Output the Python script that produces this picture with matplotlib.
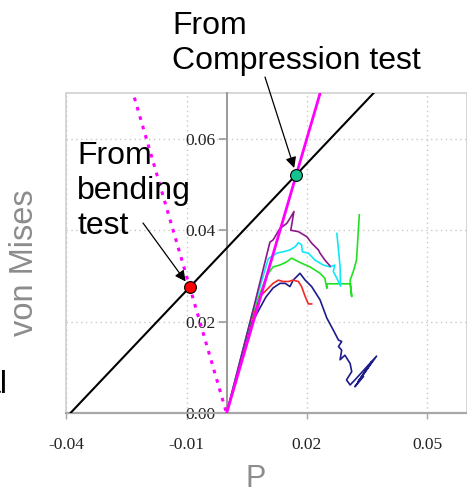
import numpy as np
import matplotlib
matplotlib.use("Agg")
import matplotlib.pyplot as plt
from matplotlib.patches import Rectangle

# ---- data -------------------------------------------------------------
# measured loading paths (pressure P, von Mises stress)
purple_p = [0.0, 0.0065, 0.0108, 0.0116, 0.0133, 0.0150, 0.0158, 0.0168, 0.0160,
            0.0179, 0.0200, 0.0212, 0.0229, 0.0233, 0.0245, 0.0258]
purple_q = [0.0, 0.0222, 0.0374, 0.0379, 0.0404, 0.0415, 0.0426, 0.0441, 0.0400,
            0.0397, 0.0386, 0.0372, 0.0357, 0.0350, 0.0335, 0.0322]

cyan_p = [0.0, 0.0065, 0.0104, 0.0112, 0.0125, 0.0141, 0.0158, 0.0171, 0.0179,
          0.0187, 0.0189, 0.0204, 0.0220, 0.0241, 0.0258, 0.0270, 0.0266, 0.0275,
          0.0284, 0.0283, 0.0279, 0.0275]
cyan_q = [0.0, 0.0222, 0.0338, 0.0342, 0.0350, 0.0353, 0.0357, 0.0364, 0.0373,
          0.0368, 0.0353, 0.0350, 0.0335, 0.0324, 0.0320, 0.0324, 0.0310, 0.0295,
          0.0278, 0.0320, 0.0357, 0.0393]

green_p = [0.0, 0.0065, 0.0100, 0.0104, 0.0116, 0.0133, 0.0150, 0.0162, 0.0171,
           0.0187, 0.0208, 0.0233, 0.0245, 0.0250, 0.0250, 0.0308, 0.0312, 0.0308,
           0.0316, 0.0324, 0.0328, 0.0331]
green_q = [0.0, 0.0220, 0.0300, 0.0306, 0.0320, 0.0324, 0.0331, 0.0339, 0.0335,
           0.0328, 0.0320, 0.0306, 0.0295, 0.0273, 0.0283, 0.0283, 0.0255, 0.0291,
           0.0310, 0.0335, 0.0393, 0.0434]

red_p = [0.0, 0.0060, 0.0067, 0.0083, 0.0100, 0.0116, 0.0129, 0.0141, 0.0154,
         0.0166, 0.0179, 0.0187, 0.0196, 0.0204, 0.0212]
red_q = [0.0, 0.0200, 0.0215, 0.0255, 0.0270, 0.0284, 0.0291, 0.0288, 0.0288,
         0.0291, 0.0288, 0.0277, 0.0255, 0.0239, 0.0239]

navy_p = [0.0, 0.0060, 0.0067, 0.0083, 0.0098, 0.0116, 0.0133, 0.0146, 0.0158,
          0.0166, 0.0183, 0.0196, 0.0212, 0.0233, 0.0250, 0.0266, 0.0279, 0.0287,
          0.0279, 0.0287, 0.0283, 0.0295, 0.0308, 0.0312, 0.0299, 0.0308, 0.0320,
          0.0374, 0.0328, 0.0362, 0.0320, 0.0341]
navy_q = [0.0, 0.0195, 0.0204, 0.0230, 0.0254, 0.0274, 0.0284, 0.0284, 0.0277,
          0.0291, 0.0306, 0.0291, 0.0277, 0.0248, 0.0208, 0.0182, 0.0160, 0.0157,
          0.0146, 0.0138, 0.0117, 0.0127, 0.0109, 0.0091, 0.0073, 0.0062, 0.0073,
          0.0125, 0.0069, 0.0113, 0.0058, 0.0080]

# failure criterion: q = k * (P - p0)
crit_k = 0.925
crit_p0 = -0.039
crit_p_end = 0.0374

# stress-path slopes for compression (q = 3P) and bending (q = -3P)
comp_slope = 3.0
comp_p_end = 0.0235
bend_slope = -3.0
bend_p_start = -0.023

x_ticks = [-0.04, -0.01, 0.02, 0.05]
x_ticklabels = ["-0.04", "-0.01", "0.02", "0.05"]
y_ticks = [0.00, 0.02, 0.04, 0.06]
y_ticklabels = ["0.00", "0.02", "0.04", "0.06"]

# ---- figure ------------------------------------------------------------
W, H = 467, 494
fig = plt.figure(figsize=(W / 100, H / 100), dpi=100)
ax = fig.add_axes([66.2 / W, 80.7 / H, 401 / W, 320.3 / H])
ax.set_xlim(-0.04, 0.06)
ax.set_ylim(0.0, 0.07)

sans = "Liberation Sans"
serif = "Liberation Serif"

# frame and axes lines
for s in ["top", "right"]:
    ax.spines[s].set_visible(False)
ax.spines["left"].set_position(("data", 0.0))
ax.spines["left"].set_color("#9a9a9a")
ax.spines["left"].set_linewidth(1.4)
ax.spines["bottom"].set_color("#a8a8a8")
ax.spines["bottom"].set_linewidth(1.6)
ax.add_patch(Rectangle((0, 0), 1, 1, transform=ax.transAxes, fill=False,
                       edgecolor="#cfcfcf", lw=1.2, zorder=0.5, clip_on=False))

ax.grid(True, linestyle=(0, (1, 2.5)), color="#c8c8c8", lw=1.0)
ax.set_axisbelow(True)

ax.set_xticks(x_ticks)
ax.set_xticklabels(x_ticklabels, fontfamily=serif, fontsize=12.5, color="#222222")
ax.set_yticks(y_ticks)
ax.set_yticklabels(y_ticklabels, fontfamily=serif, fontsize=12.5, color="#222222")
ax.tick_params(axis="x", direction="out", length=4, width=1, color="#a8a8a8", pad=13)
ax.tick_params(axis="y", direction="out", length=6, width=1.2, color="#9a9a9a", pad=2)

# criterion line
pc = np.array([crit_p0, crit_p_end])
ax.plot(pc, crit_k * (pc - crit_p0), color="black", lw=1.5, zorder=3)

# compression and bending stress paths
pcomp = np.array([0.0, comp_p_end])
ax.plot(pcomp, comp_slope * pcomp, color="#ff00ff", lw=2.0, zorder=6)
pbend = np.array([bend_p_start, 0.0])
ax.plot(pbend, bend_slope * pbend, color="#ff00ff", lw=2.2,
        linestyle=(0, (1.2, 2.0)), zorder=4)

# experimental curves
ax.plot(navy_p, navy_q, color="#1c1c8a", lw=1.2, zorder=5)
ax.plot(red_p, red_q, color="#f02828", lw=1.2, zorder=5)
ax.plot(green_p, green_q, color="#22e022", lw=1.2, zorder=5)
ax.plot(cyan_p, cyan_q, color="#10e8f8", lw=1.2, zorder=5)
ax.plot(purple_p, purple_q, color="#8a1a8a", lw=1.2, zorder=5)

# intersections of the criterion with the two stress paths
p_comp = -crit_k * crit_p0 / (comp_slope - crit_k)
q_comp = comp_slope * p_comp
p_bend = -crit_k * crit_p0 / (bend_slope - crit_k)
q_bend = bend_slope * p_bend

ax.plot([p_comp], [q_comp], "o", ms=8.5, mfc="#14c38e", mec="black", mew=0.8, zorder=8)
ax.plot([p_bend], [q_bend], "o", ms=8.5, mfc="#ff0000", mec="black", mew=0.8, zorder=8)

arrow = dict(arrowstyle="-|>", lw=0.9, color="black", mutation_scale=16,
             shrinkA=0, shrinkB=5)
ax.annotate("", xy=(p_comp, q_comp), xytext=(265, H - 77),
            textcoords="figure pixels", arrowprops=arrow, zorder=9,
            annotation_clip=False)
ax.annotate("", xy=(p_bend, q_bend), xytext=(143, H - 223),
            textcoords="figure pixels", arrowprops=arrow, zorder=9,
            annotation_clip=False)

# annotation texts
fig.text(172 / W, 1 - 11 / H, "From\nCompression test", fontfamily=sans,
         fontsize=23, ha="left", va="top", linespacing=1.22, color="black")
fig.text(77 / W, 1 - 141 / H, "From\nbending\ntest", fontfamily=sans,
         fontsize=23, ha="left", va="top", linespacing=1.22, color="black",
         zorder=10)
fig.text(8 / W, 1 - 393 / H, "al", fontfamily=sans, fontsize=23,
         ha="right", va="baseline", color="black")

# axis titles
fig.text(25 / W, 1 - 263 / H, "von Mises", fontfamily=sans, fontsize=23.5,
         rotation=90, ha="center", va="center", color="#8c8c8c")
fig.text(256 / W, 1 - 479 / H, "P", fontfamily=sans, fontsize=22,
         ha="center", va="center", color="#8c8c8c")

fig.savefig("out.png", dpi=100)
